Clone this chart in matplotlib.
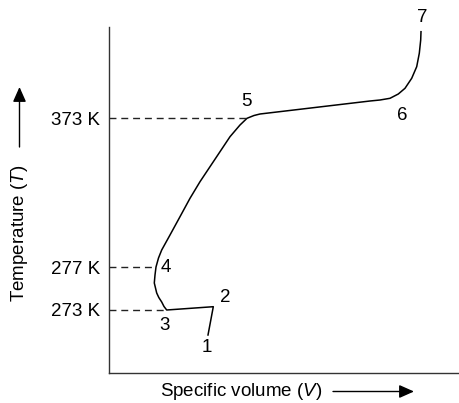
import matplotlib
matplotlib.use("Agg")
import matplotlib.pyplot as plt

plt.rcParams['font.family'] = ['Liberation Sans', 'DejaVu Sans']
plt.rcParams['mathtext.fontset'] = 'custom'
plt.rcParams['mathtext.rm'] = 'Liberation Sans'
plt.rcParams['mathtext.it'] = 'Liberation Sans:italic'

# Schematic T-V curve of water (arbitrary units)
volume = [99, 104.3, 57.7, 55, 52.7, 49.8, 47.7, 45.3, 46, 47, 49.5, 52.7, 61, 71, 81,
          91, 101, 111, 121, 131, 138, 145, 151, 261, 271, 281, 289.3, 296, 302.7,
          307.7, 310.3, 311.7, 312]
temperature = [38, 66.3, 63, 66.5, 71, 75.5, 80, 90, 98, 106, 115, 123, 138, 156.3,
               174.7, 191.3, 206.3, 221.3, 236.3, 248, 254.7, 257.5, 259, 272, 273,
               274.7, 279, 284.7, 294.7, 306.3, 319.7, 333, 341.3]

# Numbered state points (index into the curve)
point_labels = ['1', '2', '3', '4', '5', '6', '7']
point_index = [0, 1, 2, 9, 20, 25, 32]
label_offsets = [(-1, -13), (12, 9), (-2, -15), (10, 0), (-1, 17), (12, -17), (1, 14)]

# Reference temperatures (schematic positions) and the state points they reach
temp_labels = ['373 K', '277 K', '273 K']
temp_points = [20, 9, 2]

W, H = 459, 403
fig = plt.figure(figsize=(W / 100, H / 100), dpi=100)
ax = fig.add_axes([109 / W, 30 / H, 349 / W, 346 / H])
ax.set_xlim(0, 349)
ax.set_ylim(0, 346)

ax.plot(volume, temperature, color='black', lw=1.1, solid_joinstyle='round')

for lab, idx in zip(temp_labels, temp_points):
    ax.plot([0, volume[idx]], [temperature[idx], temperature[idx]], color='#222222',
            lw=1.0, linestyle=(0, (5, 3.5)))

ax.set_yticks([temperature[i] for i in temp_points])
ax.set_yticklabels(temp_labels, fontsize=13.5)
ax.tick_params(axis='y', length=0, pad=6.5)
ax.set_xticks([])

for lab, idx, off in zip(point_labels, point_index, label_offsets):
    ax.annotate(lab, xy=(volume[idx], temperature[idx]), xytext=off,
                textcoords='offset pixels', ha='center', va='center', fontsize=13.5,
                annotation_clip=False)

for s in ['top', 'right']:
    ax.spines[s].set_visible(False)
for s in ['left', 'bottom']:
    ax.spines[s].set_color('#333333')
    ax.spines[s].set_linewidth(1.0)

fig.text(241 / W, 11.5 / H, 'Specific volume ($\\mathit{V}$)', ha='center', va='center',
         fontsize=13.5)
fig.text(20 / W, (H - 233.5) / H, 'Temperature ($\\mathit{T}$)', ha='center', va='center',
         rotation=90, fontsize=13.5)

arrow_style = '-|>,head_length=0.45,head_width=0.2'
ax.annotate('', xy=(414, 11.5), xytext=(333, 11.5), xycoords='figure pixels',
            textcoords='figure pixels',
            arrowprops=dict(arrowstyle=arrow_style, mutation_scale=20, color='black',
                            lw=1.0, shrinkA=0, shrinkB=0), annotation_clip=False)
ax.annotate('', xy=(19.5, H - 87), xytext=(19.5, H - 147), xycoords='figure pixels',
            textcoords='figure pixels',
            arrowprops=dict(arrowstyle=arrow_style, mutation_scale=20, color='black',
                            lw=1.0, shrinkA=0, shrinkB=0), annotation_clip=False)

fig.savefig('out.png', dpi=100)
